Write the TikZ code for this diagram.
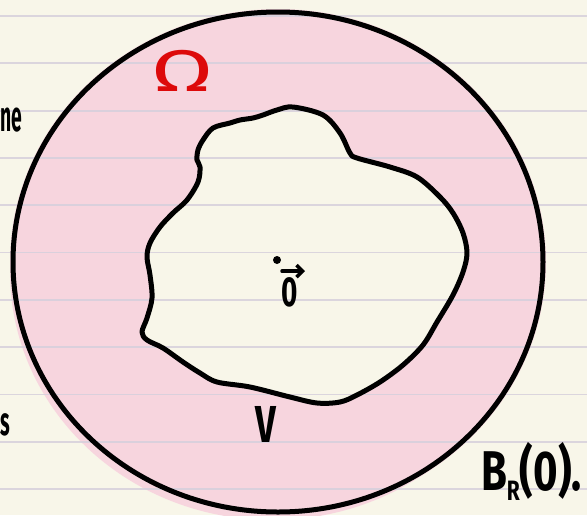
\documentclass[tikz,border=0pt]{standalone}
\usepackage{fontspec}
\setmainfont{Fira Sans}
\usepackage{graphicx}
\usetikzlibrary{arrows.meta}
\definecolor{paper}{HTML}{F8F6E9}
\definecolor{pinkfill}{HTML}{F7D5DE}
\definecolor{rulecol}{HTML}{D6D0DC}
\definecolor{omegared}{HTML}{DD0A0A}
\tikzset{
  ink/.style={draw=black, line width=5pt, line join=round, line cap=round},
  ruled/.style={draw=rulecol, line width=1.8pt, opacity=0.85},
  hand/.style={inner sep=0pt, outer sep=0pt, font=\bfseries}
}
\begin{document}
\begin{tikzpicture}[x=1pt,y=-1pt]
\useasboundingbox (0,0) rectangle (587,515);
\clip (0,0) rectangle (587,515);
\fill[paper] (0,0) rectangle (587,515);
% pink annulus fill (with hand-painted bleed)
\fill[pinkfill] (278,262) ellipse [x radius=268pt, y radius=253pt];
\fill[pinkfill] (272,272) ellipse [x radius=262pt, y radius=248pt];
% inner region V
\path[fill=paper] plot[smooth cycle, tension=0.55] coordinates {
 (293,107) (323,115) (340,133) (350,153) (357,158) (390,167) (417,177)
 (440,197) (453,213) (463,233) (467,253) (463,272) (453,295) (437,322)
 (423,345) (403,365) (380,382) (357,395) (340,402) (317,403) (290,397)
 (250,387) (217,382) (200,373) (183,362) (163,348) (147,340) (142,332)
 (147,318) (152,298) (150,275) (147,257) (150,243) (160,227) (173,213)
 (187,200) (198,182) (200,167) (197,160) (198,150) (203,140) (213,128)
 (230,123) (240,120) (253,118) (263,115) (277,110)};
% ruled paper lines
\foreach \yy in {16,63.3,110.6,157.9,205.2,252.5,299.8,347.1,394.4,441.7,489}
  \draw[ruled] (0,\yy) -- (587,\yy);
% outer ball B_R(0)
\draw[ink] (278,262) ellipse [x radius=265pt, y radius=250pt];
% boundary of V
\draw[ink] plot[smooth cycle, tension=0.55] coordinates {
 (293,107) (323,115) (340,133) (350,153) (357,158) (390,167) (417,177)
 (440,197) (453,213) (463,233) (467,253) (463,272) (453,295) (437,322)
 (423,345) (403,365) (380,382) (357,395) (340,402) (317,403) (290,397)
 (250,387) (217,382) (200,373) (183,362) (163,348) (147,340) (142,332)
 (147,318) (152,298) (150,275) (147,257) (150,243) (160,227) (173,213)
 (187,200) (198,182) (200,167) (197,160) (198,150) (203,140) (213,128)
 (230,123) (240,120) (253,118) (263,115) (277,110)};
% labels
\node[hand, text=omegared, font=\mdseries] (omega) at (183,71)
  {\scalebox{1.6}[1.05]{\fontsize{56}{56}\selectfont Ω}};
\node[hand] (vlabel) at (266,424)
  {\scalebox{0.7}[1]{\fontsize{52}{52}\selectfont V}};
\fill (277,260) circle [radius=4pt];
\node[hand] (zero) at (290,292)
  {\scalebox{0.7}[1.05]{\fontsize{40}{40}\selectfont 0}};
\draw[line width=3.5pt, line cap=round, line join=round, -{Straight Barb[length=6pt, width=12pt]}]
  ([shift={(-8pt,6pt)}]zero.north) -- ([shift={(15pt,6pt)}]zero.north);
\node[hand, anchor=base west] (ball) at (481,490)
  {\scalebox{0.75}[1]{\fontsize{56}{56}\selectfont B\raisebox{-10pt}{\fontsize{28}{28}\selectfont R}(0).}};
\node[hand, anchor=base east] (frag1) at (22,131)
  {\scalebox{0.45}[1]{\fontsize{43}{43}\selectfont ne}};
\node[hand, anchor=base west] (frag2) at (1,435)
  {\scalebox{0.5}[1]{\fontsize{40}{40}\selectfont s}};
\end{tikzpicture}
\end{document}
